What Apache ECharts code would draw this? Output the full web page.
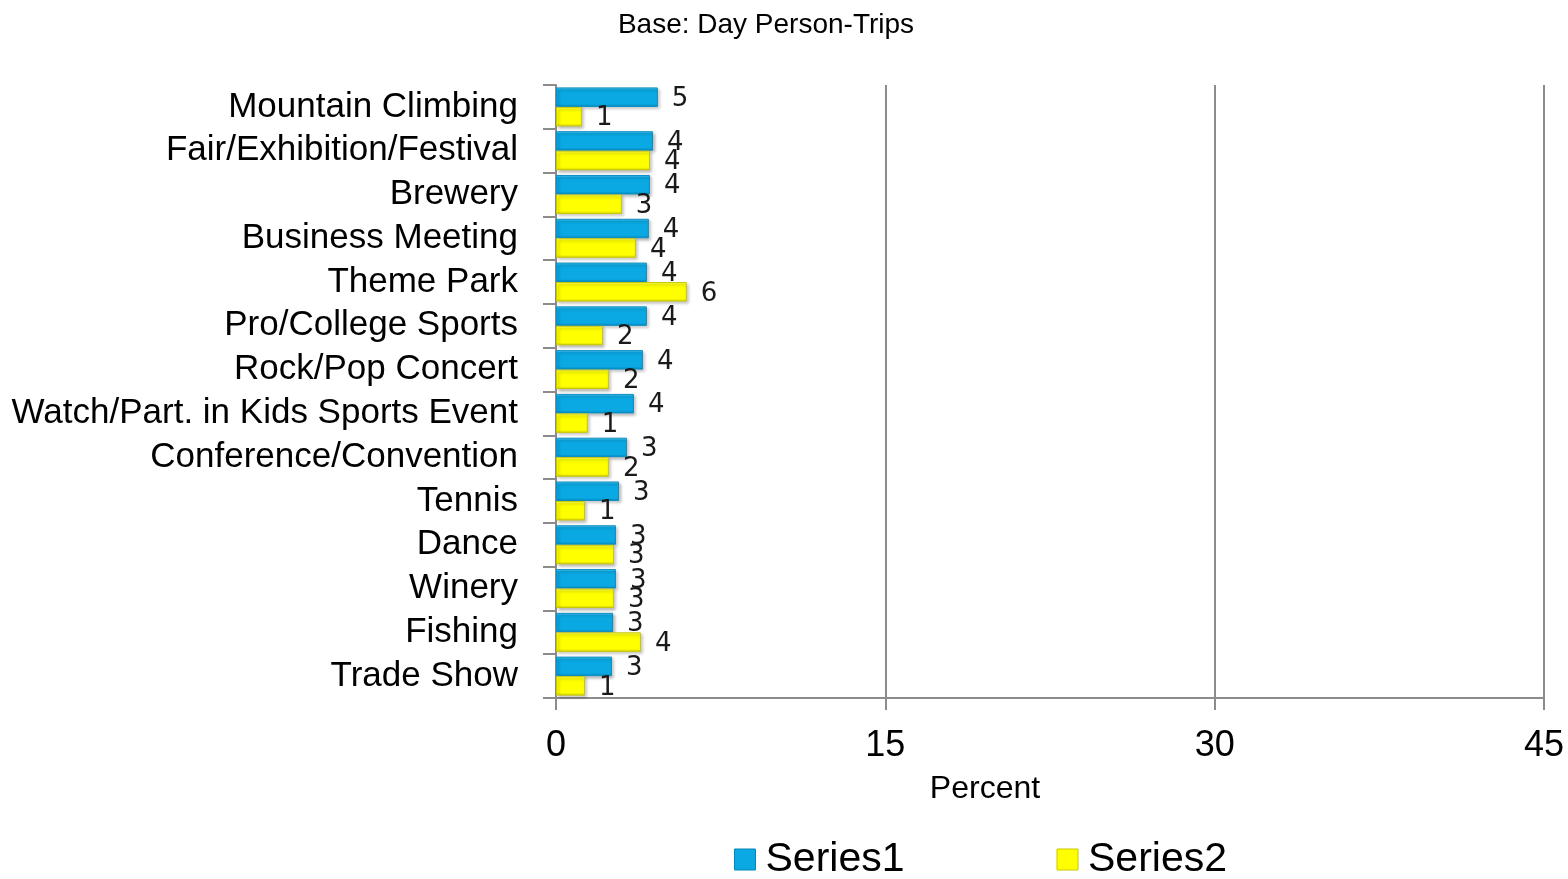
<!DOCTYPE html>
<html>
<head>
<meta charset="utf-8">
<script src="https://cdn.jsdelivr.net/npm/echarts@6/dist/echarts.min.js"></script>
<style>
  html, body { margin: 0; padding: 0; background: #fff; }
  #chart { width: 1568px; height: 879px; }
</style>
</head>
<body>
<div id="chart"></div>
<script>
// Activities, top to bottom
const categories = [
  'Mountain Climbing', 'Fair/Exhibition/Festival', 'Brewery', 'Business Meeting',
  'Theme Park', 'Pro/College Sports', 'Rock/Pop Concert', 'Watch/Part. in Kids Sports Event',
  'Conference/Convention', 'Tennis', 'Dance', 'Winery', 'Fishing', 'Trade Show'
];
// Percent of day person-trips
const series1 = [4.64, 4.42, 4.28, 4.23, 4.14, 4.14, 3.96, 3.55, 3.23, 2.87, 2.73, 2.73, 2.6, 2.55];
const series2 = [1.18, 4.28, 3.0, 3.64, 5.96, 2.14, 2.41, 1.45, 2.41, 1.32, 2.64, 2.64, 3.87, 1.32];
const seriesNames = ['Series1', 'Series2'];
const axisTicks = [0, 15, 30, 45];

const chart = echarts.init(document.getElementById('chart'), null, { renderer: 'canvas' });

function bevel(top, mid, bottom) {
  return new echarts.graphic.LinearGradient(0, 0, 0, 1, [
    { offset: 0, color: top },
    { offset: 0.12, color: mid },
    { offset: 0.85, color: mid },
    { offset: 1, color: bottom }
  ]);
}

const blueFill = bevel('#6fd3f5', '#0aa9e4', '#0586b8');
const yellowFill = bevel('#ffff9a', '#ffff00', '#d6d600');

function barSeries(name, values, fill, edge) {
  return {
    name: name,
    type: 'bar',
    data: values,
    barGap: '0%',
    barCategoryGap: '11%',
    itemStyle: {
      color: fill,
      borderColor: edge,
      borderWidth: 1,
      shadowColor: 'rgba(0,0,0,0.28)',
      shadowBlur: 3,
      shadowOffsetX: 2,
      shadowOffsetY: 2
    },
    label: {
      show: true,
      position: 'right',
      distance: 14,
      offset: [0, 2],
      formatter: p => Math.round(p.value),
      color: '#1a1a1a',
      fontFamily: 'DejaVu Sans',
      fontSize: 26
    }
  };
}

chart.setOption({
  animation: false,
  title: {
    text: 'Base: Day Person-Trips',
    left: 761,
    top: 6,
    textAlign: 'center',
    textStyle: { fontFamily: 'Liberation Sans', fontWeight: 'normal', fontSize: 28, color: '#000' }
  },
  legend: {
    top: 834,
    left: 729,
    itemGap: 152,
    itemWidth: 21,
    itemHeight: 21,
    icon: 'rect',
    textStyle: { fontFamily: 'Liberation Sans', fontSize: 41, color: '#000', padding: [0, 0, 0, 5] },
    data: [
      { name: seriesNames[0], itemStyle: { color: '#0aa9e4', borderColor: '#0586b8', borderWidth: 1 } },
      { name: seriesNames[1], itemStyle: { color: '#ffff00', borderColor: '#c8c800', borderWidth: 1 } }
    ]
  },
  grid: { left: 556, right: 24, top: 85, bottom: 181, containLabel: false },
  xAxis: {
    type: 'value',
    min: axisTicks[0],
    max: axisTicks[axisTicks.length - 1],
    interval: axisTicks[1] - axisTicks[0],
    name: 'Percent',
    nameLocation: 'middle',
    nameGap: 75,
    nameTextStyle: { fontFamily: 'Liberation Sans', fontSize: 32, color: '#000', padding: [0, 130, 0, 0] },
    axisLine: { show: true, lineStyle: { color: '#8c8c8c', width: 2 } },
    axisTick: { show: true, length: 12, lineStyle: { color: '#8c8c8c', width: 2 } },
    axisLabel: { fontFamily: 'Liberation Sans', fontSize: 36, color: '#000', margin: 30 },
    splitLine: { show: true, lineStyle: { color: '#8c8c8c', width: 2 } }
  },
  yAxis: {
    type: 'category',
    inverse: true,
    data: categories,
    axisLine: { show: true, lineStyle: { color: '#8c8c8c', width: 2 } },
    axisTick: { show: true, length: 13, lineStyle: { color: '#8c8c8c', width: 2 } },
    axisLabel: {
      interval: 0,
      fontFamily: 'Liberation Sans',
      fontSize: 35,
      color: '#000',
      margin: 38
    }
  },
  series: [
    barSeries(seriesNames[0], series1, blueFill, '#0a8fc4'),
    barSeries(seriesNames[1], series2, yellowFill, '#c8c800')
  ]
});
</script>
</body>
</html>
